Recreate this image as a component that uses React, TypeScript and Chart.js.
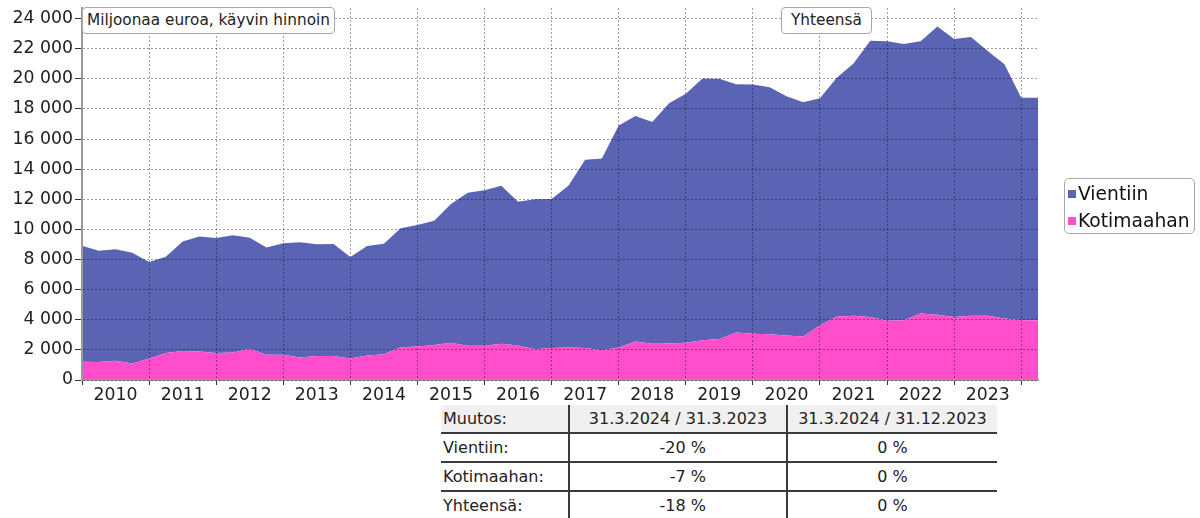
import React, { useEffect, useRef } from 'react';
import { Chart, registerables } from 'chart.js';

Chart.register(...registerables);

const quarters = [
  '31.12.2009',
  '31.3.2010', '30.6.2010', '30.9.2010', '31.12.2010',
  '31.3.2011', '30.6.2011', '30.9.2011', '31.12.2011',
  '31.3.2012', '30.6.2012', '30.9.2012', '31.12.2012',
  '31.3.2013', '30.6.2013', '30.9.2013', '31.12.2013',
  '31.3.2014', '30.6.2014', '30.9.2014', '31.12.2014',
  '31.3.2015', '30.6.2015', '30.9.2015', '31.12.2015',
  '31.3.2016', '30.6.2016', '30.9.2016', '31.12.2016',
  '31.3.2017', '30.6.2017', '30.9.2017', '31.12.2017',
  '31.3.2018', '30.6.2018', '30.9.2018', '31.12.2018',
  '31.3.2019', '30.6.2019', '30.9.2019', '31.12.2019',
  '31.3.2020', '30.6.2020', '30.9.2020', '31.12.2020',
  '31.3.2021', '30.6.2021', '30.9.2021', '31.12.2021',
  '31.3.2022', '30.6.2022', '30.9.2022', '31.12.2022',
  '31.3.2023', '30.6.2023', '30.9.2023', '31.12.2023',
  '31.3.2024',
];

const vientiin = [
  7700, 7390, 7410, 7360, 6410, 6390, 7260, 7630, 7630, 7790,
  7380, 7120, 7410, 7660, 7410, 7430, 6750, 7280, 7340, 7890,
  8070, 8250, 9220, 10170, 10330, 10490, 9550, 9960, 9890, 10730,
  12490, 12730, 14730, 14970, 14730, 15960, 16530, 17380, 17280, 16480,
  16550, 16400, 15880, 15550, 15070, 15870, 16750, 18350, 18560, 18350,
  18070, 19140, 18460, 18520, 17570, 16870, 14780, 14780,
];

const kotimaahan = [
  1220, 1200, 1270, 1090, 1420, 1800, 1930, 1890, 1800, 1820,
  2070, 1670, 1670, 1490, 1600, 1600, 1420, 1620, 1710, 2180,
  2220, 2330, 2470, 2270, 2270, 2400, 2290, 2040, 2130, 2160,
  2130, 1980, 2160, 2560, 2400, 2420, 2470, 2640, 2730, 3160,
  3070, 3040, 2960, 2890, 3640, 4200, 4270, 4180, 3930, 3960,
  4420, 4330, 4180, 4260, 4270, 4090, 3960, 3960,
];

const yTicks = [0, 2000, 4000, 6000, 8000, 10000, 12000, 14000, 16000, 18000, 20000, 22000, 24000];

const seriesNames = ['Vientiin', 'Kotimaahan'];
const seriesColors = ['#5a63b4', '#ff4dcc'];

const tableHeader = ['Muutos:', '31.3.2024 / 31.3.2023', '31.3.2024 / 31.12.2023'];
const tableRows = [
  ['Vientiin:', '-20 %', '0 %'],
  ['Kotimaahan:', '-7 %', '0 %'],
  ['Yhteensä:', '-18 %', '0 %'],
];

const FONT = "'DejaVu Sans', Verdana, sans-serif";
const GRID = 'rgba(0,0,0,0.38)';

function fmt(v: number): string {
  return String(v).replace(/\B(?=(\d{3})+(?!\d))/g, ' ');
}

export default function App() {
  const ref = useRef<HTMLCanvasElement | null>(null);

  useEffect(() => {
    document.body.style.margin = '0';
    const canvas = ref.current;
    if (!canvas) return;
    const chart = new Chart(canvas, {
      type: 'line',
      data: {
        labels: quarters,
        datasets: [
          {
            label: seriesNames[1],
            data: kotimaahan,
            backgroundColor: seriesColors[1],
            borderColor: seriesColors[1],
            borderWidth: 0,
            pointRadius: 0,
            fill: 'origin',
            tension: 0,
          },
          {
            label: seriesNames[0],
            data: vientiin,
            backgroundColor: seriesColors[0],
            borderColor: seriesColors[0],
            borderWidth: 0,
            pointRadius: 0,
            fill: '-1',
            tension: 0,
          },
        ],
      },
      options: {
        animation: false,
        responsive: false,
        events: [],
        layout: { padding: { top: 8, right: 162, left: 0, bottom: 0 } },
        plugins: {
          legend: { display: false },
          tooltip: { enabled: false },
        },
        scales: {
          x: {
            type: 'category',
            offset: false,
            afterFit: (s: any) => {
              s.height = 25;
              s.paddingLeft = 0;
              s.paddingRight = 0;
            },
            grid: {
              z: 1,
              offset: false,
              color: (c: any) => (c.index % 4 === 0 ? GRID : 'rgba(0,0,0,0)'),
              tickColor: (c: any) => (c.index % 4 === 0 ? '#333' : 'rgba(0,0,0,0)'),
              tickLength: 5,
              lineWidth: 1,
            },
            border: { display: true, color: '#999', width: 2, dash: [2, 2], z: 1 },
            ticks: {
              autoSkip: false,
              maxRotation: 0,
              minRotation: 0,
              padding: 0,
              color: '#222',
              font: { family: FONT, size: 17.3 },
              callback: (_v: any, i: number) => (i % 4 === 2 ? quarters[i].slice(-4) : ''),
            },
          },
          y: {
            stacked: true,
            min: 0,
            max: 24700,
            afterBuildTicks: (s: any) => {
              s.ticks = yTicks.map((v) => ({ value: v }));
            },
            afterFit: (s: any) => {
              s.width = 82;
              s.paddingTop = 0;
              s.paddingBottom = 0;
            },
            grid: {
              z: 1,
              color: GRID,
              tickColor: '#333',
              tickLength: 7,
              lineWidth: 1,
            },
            border: { display: true, color: '#999', width: 2, dash: [2, 2], z: 1 },
            ticks: {
              padding: 2,
              color: '#222',
              font: { family: FONT, size: 17.3 },
              callback: (v: any) => fmt(Number(v)),
            },
          },
        },
      } as any,
    });
    return () => chart.destroy();
  }, []);

  const boxStyle: React.CSSProperties = {
    position: 'absolute',
    top: 7,
    height: 25,
    lineHeight: '25px',
    border: '1px solid #a8a8a8',
    borderRadius: 4,
    background: '#fff',
    fontFamily: FONT,
    fontSize: 15.3,
    color: '#222',
    whiteSpace: 'nowrap',
  };

  const colW = [127, 218, 211];

  return (
    <div style={{ position: 'relative', width: 1200, height: 518, overflow: 'hidden', background: '#fff' }}>
      <canvas ref={ref} width={1200} height={405} style={{ position: 'absolute', left: 0, top: 0, display: 'block' }} />
      <div style={{ ...boxStyle, left: 82, padding: '0 4px' }}>Miljoonaa euroa, käyvin hinnoin</div>
      <div style={{ ...boxStyle, left: 781, padding: '0 9px' }}>Yhteensä</div>
      <div
        style={{
          position: 'absolute',
          left: 1064,
          top: 178,
          width: 129,
          height: 54,
          border: '1px solid #a8a8a8',
          borderRadius: 5,
          background: '#fff',
          fontFamily: FONT,
          fontSize: 18.7,
          color: '#111',
        }}
      >
        {seriesNames.map((n, i) => (
          <div key={n} style={{ position: 'absolute', left: 3, top: 2 + i * 27, height: 26, lineHeight: '26px', whiteSpace: 'nowrap' }}>
            <span style={{ display: 'inline-block', width: 8, height: 8, background: seriesColors[i], marginRight: 2, verticalAlign: 'middle', position: 'relative', top: -1 }} />
            {n}
          </div>
        ))}
      </div>
      <div style={{ position: 'absolute', left: 441, top: 405, fontFamily: FONT, fontSize: 16, color: '#222' }}>
        {[tableHeader, ...tableRows].map((row, r) => (
          <div key={r} style={{ display: 'flex', height: 29, background: r === 0 ? '#f0f0f0' : '#fff', borderBottom: '2px solid #3a3a3a', boxSizing: 'border-box' }}>
            {row.map((cell, c) => (
              <div
                key={c}
                style={{
                  width: colW[c],
                  boxSizing: 'border-box',
                  borderLeft: c > 0 ? '2px solid #3a3a3a' : 'none',
                  textAlign: c === 0 ? 'left' : 'center',
                  paddingLeft: c === 0 ? 2 : 0,
                  lineHeight: '27px',
                  whiteSpace: 'nowrap',
                }}
              >
                {c === 1 && r > 0 ? (
                  <span style={{ display: 'inline-block', width: 56, textAlign: 'right', marginLeft: 0 }}>{cell}</span>
                ) : (
                  cell
                )}
              </div>
            ))}
          </div>
        ))}
      </div>
    </div>
  );
}
